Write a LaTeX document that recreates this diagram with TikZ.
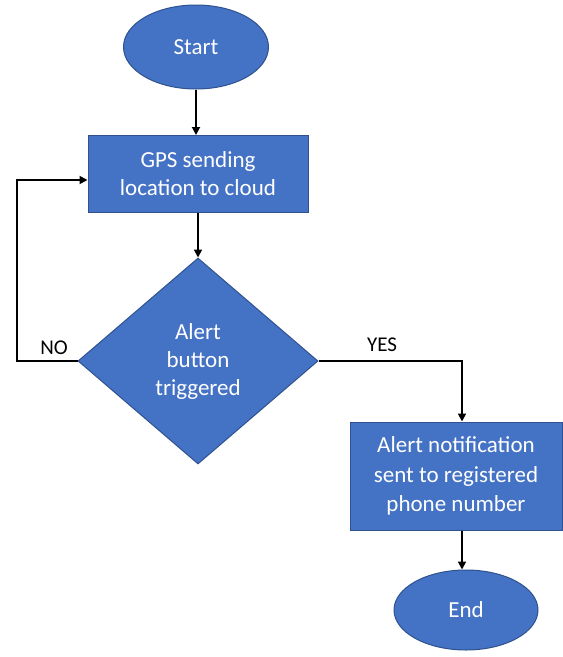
\documentclass[tikz,border=0pt]{standalone}
\usepackage{fontspec}
\setmainfont{Carlito}
\usetikzlibrary{shapes.geometric,arrows.meta}
\definecolor{boxblue}{HTML}{4472C4}
\definecolor{edgeblue}{HTML}{2F528F}
\tikzset{
  every node/.style={font=\fontsize{23}{28}\selectfont},
  shapebase/.style={fill=boxblue, draw=edgeblue, line width=1pt, text=white, align=center, inner sep=0pt},
  terminal/.style={shapebase, ellipse},
  process/.style={shapebase, rectangle},
  decision/.style={shapebase, diamond},
  flow/.style={line width=1.8pt, -{Triangle[length=8pt,width=8pt]}},
  tag/.style={text=black, font=\fontsize{21}{25}\selectfont}
}
\begin{document}
\begin{tikzpicture}[x=1pt,y=-1pt]
  \fill[white] (0,0) rectangle (563,657);
  \useasboundingbox (0,0) rectangle (563,657);

  \node[terminal, minimum width=145pt, minimum height=84pt] (start) at (196,47) {Start};
  \node[process, minimum width=220pt, minimum height=77pt] (gps) at (198,174) {GPS sending\\location to cloud};
  \node[decision, minimum width=240pt, minimum height=206pt] (dec) at (198,361) {Alert\\button\\triggered};
  \node[process, minimum width=212pt, minimum height=108pt, font=\fontsize{23}{29.5}\selectfont] (alert) at (456,476) {Alert notification\\sent to registered\\phone number};
  \node[terminal, minimum width=144pt, minimum height=80pt] (end) at (466,610) {End};

  \coordinate (noturn) at (17,361);
  \coordinate (yesturn) at (462,361);

  \draw[flow] (start.south) -- (start.south |- gps.north);
  \draw[flow] (gps.south) -- (dec.north);
  \draw[flow] (dec.west) -- (noturn) |- ([yshift=-6pt]gps.west);
  \draw[flow] (dec.east) -- (yesturn) -- (yesturn |- alert.north);
  \draw[flow] (yesturn |- alert.south) -- (yesturn |- end.north);

  \node[tag] (no) at (54,348) {NO};
  \node[tag] (yes) at (382,345) {YES};
\end{tikzpicture}
\end{document}
